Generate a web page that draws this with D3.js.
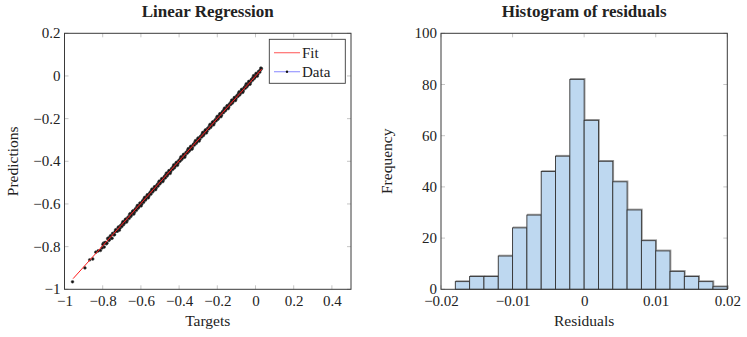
<!DOCTYPE html>
<html><head><meta charset="utf-8">
<script src="https://cdn.jsdelivr.net/npm/d3@7"></script>
<style>
body{margin:0;background:#fff;}
text{font-family:"Liberation Serif","Times New Roman",serif;fill:#222;}
</style></head>
<body><svg id="c" width="747" height="337"></svg>
<script>
// ---------- data ----------
const titles = ["Linear Regression", "Histogram of residuals"];
const xLabels = ["Targets", "Residuals"];
const yLabels = ["Predictions", "Frequency"];
const legendLabels = ["Fit", "Data"];

const scatterXTicks = [-1, -0.8, -0.6, -0.4, -0.2, 0, 0.2, 0.4];
const scatterYTicks = [-1, -0.8, -0.6, -0.4, -0.2, 0, 0.2];
const histXTicks = [-0.02, -0.01, 0, 0.01, 0.02];
const histYTicks = [0, 20, 40, 60, 80, 100];

const fitX = [-0.955, 0.033];
const fitY = [-0.950, 0.032];

const targets = [-0.958,-0.893,-0.868,-0.852,-0.836,-0.824,-0.812,-0.803,-0.796,-0.788,-0.781,-0.774,-0.768,-0.761,-0.755,-0.748,-0.741,-0.735,-0.729,-0.722,-0.716,-0.710,-0.703,-0.697,-0.691,-0.684,-0.678,-0.672,-0.665,-0.659,-0.653,-0.646,-0.640,-0.634,-0.627,-0.621,-0.615,-0.608,-0.602,-0.596,-0.589,-0.583,-0.577,-0.570,-0.564,-0.558,-0.551,-0.545,-0.539,-0.532,-0.526,-0.520,-0.513,-0.507,-0.501,-0.494,-0.488,-0.482,-0.475,-0.469,-0.463,-0.456,-0.450,-0.444,-0.437,-0.431,-0.425,-0.418,-0.412,-0.406,-0.399,-0.393,-0.387,-0.380,-0.374,-0.368,-0.361,-0.355,-0.349,-0.342,-0.336,-0.330,-0.323,-0.317,-0.311,-0.304,-0.298,-0.292,-0.285,-0.279,-0.273,-0.266,-0.260,-0.254,-0.247,-0.241,-0.235,-0.228,-0.222,-0.216,-0.209,-0.203,-0.197,-0.190,-0.184,-0.178,-0.171,-0.165,-0.159,-0.152,-0.146,-0.140,-0.133,-0.127,-0.121,-0.114,-0.108,-0.102,-0.095,-0.089,-0.083,-0.076,-0.070,-0.064,-0.057,-0.051,-0.045,-0.038,-0.032,-0.026,-0.019,-0.013,-0.007,0.000,0.006,0.012,0.019,0.025,0.031,
 -0.799,-0.792,-0.785,-0.778,-0.771,-0.765,-0.758,-0.751,-0.745,-0.738,-0.732,-0.725,-0.719,-0.713,-0.706,-0.700,-0.694,-0.687,-0.681,-0.675,-0.668,-0.662,-0.656,-0.649,-0.643,-0.637,-0.630,-0.624,-0.618,-0.611,-0.605,-0.599,-0.592,-0.586,-0.580,-0.573,-0.567,-0.561,-0.554,-0.548,-0.542,-0.535,-0.529,-0.523,-0.516,-0.510,-0.504,-0.497,-0.491,-0.485,-0.478,-0.472,-0.466,-0.459,-0.453,-0.447,-0.440,-0.434,-0.428,-0.421,-0.415,-0.409,-0.402,-0.396,-0.390,-0.383,-0.377,-0.371,-0.364,-0.358,-0.352,-0.345,-0.339,-0.333,-0.326,-0.320,-0.314,-0.307,-0.301,-0.295,-0.288,-0.282,-0.276,-0.269,-0.263,-0.257,-0.250,-0.244,-0.238,-0.231,-0.225,-0.219,-0.212,-0.206,-0.200,-0.193,-0.187,-0.181,-0.174,-0.168,-0.162,-0.155,-0.149,-0.143,-0.136,-0.130,-0.124,-0.117,-0.111,-0.105,-0.098,-0.092,-0.086,-0.079,-0.073,-0.067,-0.060,-0.054,-0.048,-0.041,-0.035,-0.029,-0.022,-0.016,-0.010,-0.003,0.003,0.009,0.016,0.022,0.028];
const predictions = [-0.965,-0.900,-0.862,-0.858,-0.826,-0.820,-0.818,-0.806,-0.784,-0.781,-0.787,-0.763,-0.771,-0.752,-0.760,-0.738,-0.745,-0.729,-0.722,-0.727,-0.708,-0.714,-0.699,-0.690,-0.697,-0.679,-0.671,-0.678,-0.661,-0.650,-0.659,-0.642,-0.633,-0.639,-0.622,-0.614,-0.620,-0.605,-0.596,-0.601,-0.583,-0.575,-0.582,-0.566,-0.557,-0.563,-0.545,-0.539,-0.544,-0.528,-0.519,-0.525,-0.508,-0.500,-0.506,-0.490,-0.481,-0.487,-0.470,-0.462,-0.469,-0.451,-0.444,-0.449,-0.433,-0.424,-0.431,-0.413,-0.405,-0.411,-0.395,-0.386,-0.392,-0.375,-0.368,-0.373,-0.357,-0.348,-0.354,-0.337,-0.330,-0.336,-0.319,-0.310,-0.316,-0.300,-0.291,-0.297,-0.281,-0.272,-0.279,-0.262,-0.253,-0.259,-0.243,-0.234,-0.241,-0.224,-0.215,-0.221,-0.205,-0.196,-0.203,-0.186,-0.177,-0.184,-0.166,-0.158,-0.164,-0.148,-0.139,-0.146,-0.129,-0.120,-0.127,-0.110,-0.101,-0.107,-0.091,-0.082,-0.089,-0.072,-0.063,-0.070,-0.053,-0.044,-0.051,-0.034,-0.026,-0.031,-0.015,-0.007,-0.012,0.004,0.010,0.007,0.022,0.027,0.034,
 -0.790,-0.802,-0.781,-0.784,-0.760,-0.768,-0.749,-0.761,-0.741,-0.744,-0.721,-0.728,-0.710,-0.723,-0.702,-0.706,-0.683,-0.690,-0.672,-0.685,-0.664,-0.668,-0.645,-0.652,-0.634,-0.647,-0.626,-0.630,-0.607,-0.614,-0.596,-0.609,-0.588,-0.592,-0.569,-0.576,-0.558,-0.571,-0.550,-0.554,-0.531,-0.538,-0.520,-0.533,-0.512,-0.516,-0.493,-0.500,-0.482,-0.495,-0.474,-0.478,-0.455,-0.462,-0.444,-0.457,-0.436,-0.438,-0.417,-0.424,-0.406,-0.419,-0.398,-0.400,-0.379,-0.386,-0.368,-0.381,-0.360,-0.362,-0.341,-0.348,-0.330,-0.343,-0.322,-0.324,-0.303,-0.310,-0.292,-0.305,-0.284,-0.286,-0.265,-0.272,-0.254,-0.267,-0.246,-0.248,-0.227,-0.234,-0.216,-0.229,-0.208,-0.210,-0.189,-0.196,-0.178,-0.191,-0.170,-0.172,-0.151,-0.158,-0.140,-0.153,-0.132,-0.134,-0.113,-0.120,-0.102,-0.115,-0.094,-0.096,-0.075,-0.082,-0.064,-0.077,-0.056,-0.058,-0.037,-0.044,-0.026,-0.039,-0.018,-0.020,0.001,-0.006,0.012,-0.001,0.020,0.018,0.037];

const binEdgesStart = [-0.018,-0.016,-0.014,-0.012,-0.010,-0.008,-0.006,-0.004,-0.002,0.000,0.002,0.004,0.006,0.008,0.010,0.012,0.014,0.016,0.018];
const binCounts = [3,5,5,13,24,29,46,52,82,66,50,42,31,19,15,7,5,3,1];
const binWidth = 0.002;

// ---------- layout ----------
const svg = d3.select("#c");
const yTop = 33.3, yBot = 289.3;
const L = {x0: 64.5, x1: 351};
const R = {x0: 441, x1: 727.3};
const axisColor = "#3a3a3a", tickColor = "#b8b8b8", tickLen = 4;
const fmt = v => { const s = (Math.abs(v) < 1e-12 ? "0" : String(+v.toFixed(4))); return s.replace("-", "\u2212"); };

function frame(g, xs, ys, xt, yt) {
  const tk = g.append("g").attr("stroke", tickColor).attr("stroke-width", 0.8);
  xt.forEach(v => {
    const x = xs(v);
    tk.append("line").attr("x1", x).attr("x2", x).attr("y1", yBot).attr("y2", yBot - tickLen);
    tk.append("line").attr("x1", x).attr("x2", x).attr("y1", yTop).attr("y2", yTop + tickLen);
  });
  yt.forEach(v => {
    const y = ys(v);
    tk.append("line").attr("y1", y).attr("y2", y).attr("x1", xs.range()[0]).attr("x2", xs.range()[0] + tickLen);
    tk.append("line").attr("y1", y).attr("y2", y).attr("x1", xs.range()[1]).attr("x2", xs.range()[1] - tickLen);
  });
}
function border(g, xs) {
  g.append("rect").attr("x", xs.range()[0]).attr("y", yTop)
    .attr("width", xs.range()[1] - xs.range()[0]).attr("height", yBot - yTop)
    .attr("fill", "none").attr("stroke", axisColor).attr("stroke-width", 1);
}
function labels(g, xs, ys, xt, yt, title, xl, yl, ylx) {
  const cx = (xs.range()[0] + xs.range()[1]) / 2;
  const xa = g.append("g").attr("transform", `translate(0,${yBot})`)
    .call(d3.axisBottom(xs).tickValues(xt).tickFormat(fmt).tickSize(0).tickPadding(0));
  xa.select(".domain").remove();
  xa.selectAll("text").attr("y", 17).attr("dy", 0).style("font-size", "15px").style("font-family", "Liberation Serif").style("fill", "#222");
  const ya = g.append("g").attr("transform", `translate(${xs.range()[0]},0)`)
    .call(d3.axisLeft(ys).tickValues(yt).tickFormat(fmt).tickSize(0).tickPadding(0));
  ya.select(".domain").remove();
  ya.selectAll("text").attr("x", -4).attr("dy", "0.3em").style("font-size", "15px").style("font-family", "Liberation Serif").style("fill", "#222");
  g.append("text").attr("x", cx).attr("y", 17).attr("text-anchor", "middle")
    .style("font-size", "17px").style("font-weight", "bold").text(title);
  g.append("text").attr("x", cx).attr("y", 326).attr("text-anchor", "middle")
    .style("font-size", "15.5px").text(xl);
  g.append("text").attr("transform", `translate(${ylx},${(yTop + yBot) / 2}) rotate(-90)`)
    .attr("text-anchor", "middle").style("font-size", "15.5px").text(yl);
}

// ---------- left: scatter ----------
const xs1 = d3.scaleLinear().domain([-1, 0.5]).range([L.x0, L.x1]);
const ys1 = d3.scaleLinear().domain([-1, 0.2]).range([yBot, yTop]);
const g1 = svg.append("g");
frame(g1, xs1, ys1, scatterXTicks, scatterYTicks);
g1.append("g").selectAll("circle").data(targets).join("circle")
  .attr("cx", (d) => xs1(d)).attr("cy", (d, i) => ys1(predictions[i]))
  .attr("r", 1.4).attr("fill", "#111").attr("stroke", "#444").attr("stroke-width", 0.5);
g1.append("path").datum(fitX.map((x, i) => [x, fitY[i]]))
  .attr("d", d3.line().x(d => xs1(d[0])).y(d => ys1(d[1])))
  .attr("stroke", "#ff1a1a").attr("stroke-width", 1).attr("fill", "none");
border(g1, xs1);
labels(g1, xs1, ys1, scatterXTicks, scatterYTicks, titles[0], xLabels[0], yLabels[0], 18);

// legend
const lg = g1.append("g");
lg.append("rect").attr("x", 269.3).attr("y", 39.3).attr("width", 76).attr("height", 44)
  .attr("fill", "#fff").attr("stroke", axisColor).attr("stroke-width", 0.9);
lg.append("line").attr("x1", 274).attr("x2", 300).attr("y1", 52.7).attr("y2", 52.7)
  .attr("stroke", "#ff7070").attr("stroke-width", 1.2);
lg.append("line").attr("x1", 274).attr("x2", 300).attr("y1", 71.7).attr("y2", 71.7)
  .attr("stroke", "#9a9aff").attr("stroke-width", 1.2);
lg.append("circle").attr("cx", 287).attr("cy", 71.7).attr("r", 1.2).attr("fill", "#111");
lg.append("text").attr("x", 302).attr("y", 57.5).style("font-size", "15px").text(legendLabels[0]);
lg.append("text").attr("x", 302).attr("y", 76.5).style("font-size", "15px").text(legendLabels[1]);

// ---------- right: histogram ----------
const xs2 = d3.scaleLinear().domain([-0.02, 0.02]).range([R.x0, R.x1]);
const ys2 = d3.scaleLinear().domain([0, 100]).range([yBot, yTop]);
const g2 = svg.append("g");
frame(g2, xs2, ys2, histXTicks, histYTicks);
const bars = g2.append("g");
bars.selectAll("rect.sh").data(binCounts).join("rect").attr("class", "sh")
  .attr("x", (d, i) => xs2(binEdgesStart[i]) + 0.8).attr("y", d => ys2(d) - 0.8)
  .attr("width", (d, i) => xs2(binEdgesStart[i] + binWidth) - xs2(binEdgesStart[i]))
  .attr("height", d => yBot - ys2(d))
  .attr("fill", "none").attr("stroke", "#9a9a9a").attr("stroke-width", 1);
bars.selectAll("rect.b").data(binCounts).join("rect").attr("class", "b")
  .attr("x", (d, i) => xs2(binEdgesStart[i])).attr("y", d => ys2(d))
  .attr("width", (d, i) => xs2(binEdgesStart[i] + binWidth) - xs2(binEdgesStart[i]))
  .attr("height", d => yBot - ys2(d))
  .attr("fill", "#bed8f0").attr("stroke", "#333").attr("stroke-width", 0.9);
border(g2, xs2);
labels(g2, xs2, ys2, histXTicks, histYTicks, titles[1], xLabels[1], yLabels[1], 392);
</script></body></html>
